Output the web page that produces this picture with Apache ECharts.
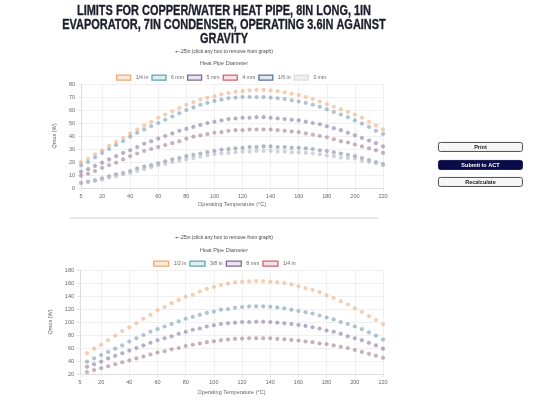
<!DOCTYPE html>
<html><head><meta charset="utf-8">
<script src="https://cdn.jsdelivr.net/npm/echarts@6/dist/echarts.min.js"></script>
<style>html,body{margin:0;padding:0;background:#fff}#c{width:540px;height:402px}</style>
</head><body><div id="c"></div>
<script>
// ---------- DATA ----------
const temps1 = [5,10,15,20,25,30,35,40,45,50,55,60,65,70,75,80,85,90,95,100,105,110,115,120,125,130,135,140,145,150,155,160,165,170,175,180,185,190,195,200,205,210,215,220];
const temps2 = [10,15,20,25,30,35,40,45,50,55,60,65,70,75,80,85,90,95,100,105,110,115,120,125,130,135,140,145,150,155,160,165,170,175,180,185,190,195,200,205,210,215,220];
const xTickValues = [5,20,40,60,80,100,120,140,160,180,200,220];

const names1 = ['1/4 in','6 mm','5 mm','4 mm','1/5 in','3 mm'];
const q1_quarterIn = [20,22.5,26,29,32.5,35.5,38.5,42,45,48,51,54,56.5,59,61.5,64,66,68,69.5,70.5,72,73,74,74.5,75,75.5,75.5,75,74.5,73.5,72.5,71.5,70,68.5,66.5,64.5,62.5,60.5,58.5,56.5,54,51,48,45];
const q1_6mm = [17.5,20,23.5,27,30,33,36,39.5,42.5,45,47.5,50,52.5,55,57.5,60,62,64,65.5,67,68,69,69.5,70,70,70,70,69.5,69,68.5,67.5,66.5,65.5,64,62.5,60.5,58.5,56.5,54.5,52,49.5,47,44,41.5];
const q1_5mm = [12.5,14.5,17,19.5,22,24.5,27,29,31.5,34,36,38,40,42,44,45.5,47,48.5,50,51,52,53,53.5,54,54,54.5,54.5,54,53.5,53,52.5,52,51,50,49,47.5,46,44.5,42.5,40.5,38.5,36.5,34.5,32];
const q1_4mm = [9.5,11,13,15.5,17.5,19.5,22,24.5,26.5,28.5,30,31.5,33,34.5,36,38,39.5,40.5,41.5,42.5,43,44,44.5,44.5,45,45,45,45,44.5,44,43.5,43,42,41,40,39,37.5,36,35,33.5,32,30.5,29,27];
const q1_fifthIn = [4,5,6,7.5,9,10.5,11.5,13,15,16.5,17.5,19,20.5,22,23,24.5,25.5,26.5,27.5,28.5,29.5,30,30.5,31,31.5,31.5,32,32,31.5,31.5,31,31,30.5,30,29,28.5,27.5,26.5,25.5,24.5,23,21.5,20,18.5];
const q1_3mm = [3.5,4.5,5.5,6.5,8,9,10.5,11.5,13,14.5,16,17.5,18.5,20,21,22,23,24,25,26,26.5,27,27.5,28,28,28.5,28.5,28.5,28,28,27.5,27.5,27,26.5,26,25,24.5,23.5,23,22.5,21,20,19,17.5];

const names2 = ['1/2 in','3/8 in','8 mm','1/4 in'];
const q2_halfIn = [52,59,65,72,79,86,92,98,105,111,118,123,129,134,139,142,147,151,154,157,159,161,162,162.5,163,163,162,161,160,158,155,152,149.5,146,141,137,132,127,121,115.5,109,103,96.5];
const q2_threeEighthIn = [39,44,49,54,59,64,70,75,80,85,89,93,97,101,105,108,111,114,116,119,120,122,123,124,124,124,123.5,122.5,121,119,117,115,113,110,107,104,100,97,93,89,84,79,73];
const q2_8mm = [31,35,39,44,48,52,56,60,64,68,72,75,78,82,85,88,90,93,95,97,98,99,100,100,100.5,100.5,100,99,98,97,95.5,94,92,90,87,85,82,78,75,72,68,64,59];
const q2_quarterIn = [23,26,29,32,35,38,41,44,47,50,53,55,58,60,63,65,67,69,70.5,72,73,74,74.5,75,75,75,75,74,73.5,72.5,71.5,70,69,67,66,64,62,60,57,54,51,48,45];

const titleText = 'LIMITS FOR COPPER/WATER HEAT PIPE, 8IN LONG, 1IN\nEVAPORATOR, 7IN CONDENSER, OPERATING 3.6IN AGAINST\nGRAVITY';
const noteText = '+-.25in (click any box to remove from graph)';
const legendTitle = 'Heat Pipe Diameter';

// ---------- STYLE ----------
const palette = {
  orange: {line:'#e59a55', fill:'#fbe3cd', dot:'rgba(238,175,130,0.75)'},
  teal:   {line:'#3d8ea1', fill:'#d5ecf1', dot:'rgba(130,165,185,0.8)'},
  purple: {line:'#5f4785', fill:'#e6def0', dot:'rgba(145,130,170,0.8)'},
  red:    {line:'#c43f50', fill:'#f6d9dd', dot:'rgba(170,135,150,0.8)'},
  blue:   {line:'#344f86', fill:'#d9e2f1', dot:'rgba(135,145,170,0.8)'},
  grey:   {line:'#d4d4d4', fill:'#ececec', dot:'rgba(190,190,198,0.85)'}
};
const cols1 = [palette.orange,palette.teal,palette.purple,palette.red,palette.blue,palette.grey];
const vals1 = [q1_quarterIn,q1_6mm,q1_5mm,q1_4mm,q1_fifthIn,q1_3mm];
const cols2 = [palette.orange,palette.teal,palette.purple,palette.red];
const vals2 = [q2_halfIn,q2_threeEighthIn,q2_8mm,q2_quarterIn];

const FONT = 'Liberation Sans, Arial, sans-serif';
const small = {fontSize:5.5, color:'#666', fontFamily:FONT};
const legendText = {fontSize:5.2, color:'#666', fontFamily:FONT};

function xAxis(gi,gap){
  return {
    type:'value', gridIndex:gi, min:5, max:220,
    name:'Operating Temperature (°C)', nameLocation:'middle', nameGap:gap,
    nameTextStyle: small,
    axisLine:{show:true, lineStyle:{color:'#dcdcdc'}},
    axisTick:{show:true, length:3, lineStyle:{color:'#e6e6e6'}, customValues:xTickValues},
    axisLabel:Object.assign({margin:5, customValues:xTickValues}, small),
    splitLine:{show:true, lineStyle:{color:'#ececec', width:0.8}}
  };
}
function yAxis(gi,min,max,interval,gap){
  return {
    type:'value', gridIndex:gi, min:min, max:max, interval:interval,
    name:'Qmax (W)', nameLocation:'middle', nameGap:gap, nameRotate:90,
    nameTextStyle: small,
    axisLine:{show:true, lineStyle:{color:'#dcdcdc'}},
    axisTick:{show:true, length:3, lineStyle:{color:'#e6e6e6'}},
    axisLabel:Object.assign({margin:6}, small),
    splitLine:{show:true, lineStyle:{color:'#ececec', width:0.8}}
  };
}
function legendData(names, cols){
  return names.map((n,i)=>({name:n, icon:'rect',
    itemStyle:{color:cols[i].fill, borderColor:cols[i].line, borderWidth:1.3}}));
}
function buildSeries(names, vals, temps, cols, gi){
  return names.map((n,i)=>({
    name:n, type:'scatter', xAxisIndex:gi, yAxisIndex:gi,
    symbol:'circle', symbolSize:3.6,
    itemStyle:{color:cols[i].dot, borderColor:cols[i].dot, borderWidth:0.5},
    data: temps.map((t,k)=>[t, vals[i][k]])
  }));
}
function smallTitle(text, top, size, color){
  return {text:text, left:224, top:top, textAlign:'center', padding:0,
    textStyle:{fontSize:size, color:color, fontWeight:'normal', fontFamily:FONT}};
}
function button(x,y,label,dark){
  return {type:'group', left:x, top:y, children:[
    {type:'rect', shape:{x:0,y:0,width:84,height:9,r:2},
     style:{fill:dark?'#0b0b48':'#f6f6f6', stroke:dark?'#0b0b48':'#3a3a3a', lineWidth:0.9}},
    {type:'text', x:42, y:4.7, style:{text:label, fill:dark?'#fff':'#222', font:'bold 5.5px '+FONT, align:'center', verticalAlign:'middle'}}
  ]};
}

const chart = echarts.init(document.getElementById('c'), null, {renderer:'canvas'});
chart.setOption({
  animation:false,
  backgroundColor:'#fff',
  title:[
    smallTitle(noteText, 49, 5, '#444'),
    smallTitle(legendTitle, 60.5, 5.5, '#555'),
    smallTitle(noteText, 235.5, 5, '#444'),
    smallTitle(legendTitle, 247, 5.5, '#555')
  ],
  legend:[
    {data:legendData(names1,cols1), left:116, top:74.5, padding:0, itemWidth:14, itemHeight:5, itemGap:3,
     textStyle:legendText, selectedMode:true},
    {data:legendData(names2,cols2), left:153, top:260.5, padding:0, itemWidth:15, itemHeight:5, itemGap:3,
     textStyle:legendText, selectedMode:true}
  ],
  grid:[
    {left:81, right:157, top:84, bottom:214},
    {left:80, right:157, top:270, bottom:28}
  ],
  xAxis:[xAxis(0,13), xAxis(1,15)],
  yAxis:[yAxis(0,0,80,10,10), yAxis(1,20,180,20,9)],
  series:[].concat(buildSeries(names1,vals1,temps1,cols1,0), buildSeries(names2,vals2,temps2,cols2,1)),
  graphic:[
    {type:'text', x:224, y:3.5, scaleX:0.73, scaleY:1,
     style:{text:titleText, fill:'#1d1d2b', stroke:'#1d1d2b', lineWidth:0.35, font:'bold 15px '+FONT, align:'center', verticalAlign:'top', lineHeight:14.3}},
    {type:'line', shape:{x1:70,y1:218,x2:378,y2:218}, style:{stroke:'#d0d0d0', lineWidth:1}},
    button(438,142,'Print',false),
    button(438,160,'Submit to ACT',true),
    button(438,177,'Recalculate',false)
  ]
});
</script></body></html>
